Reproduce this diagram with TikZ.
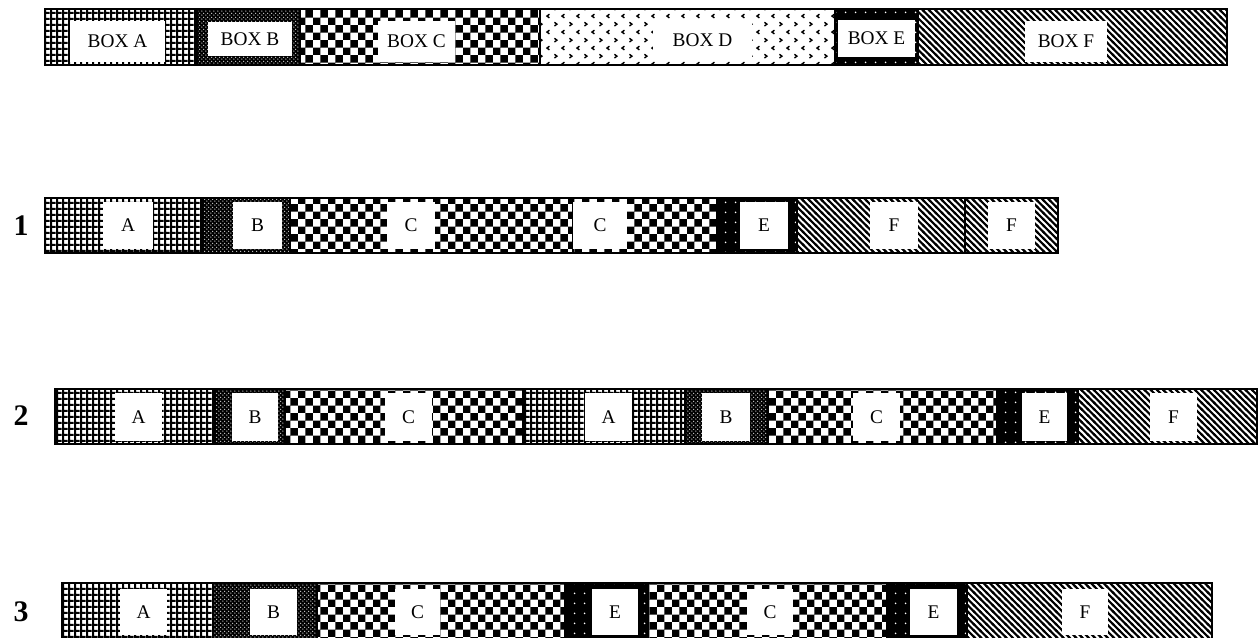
\documentclass[tikz,border=0pt]{standalone}
\usepackage{fontspec}
\setmainfont{Liberation Serif}
\usetikzlibrary{patterns}

\pgfdeclarepatternformonly{gridA}{\pgfqpoint{0pt}{0pt}}{\pgfqpoint{3.6pt}{3.6pt}}{\pgfqpoint{3.6pt}{3.6pt}}{%
  \pgfpathrectangle{\pgfqpoint{0pt}{0pt}}{\pgfqpoint{3.6pt}{1.3pt}}%
  \pgfpathrectangle{\pgfqpoint{0pt}{0pt}}{\pgfqpoint{1.3pt}{3.6pt}}%
  \pgfusepath{fill}}
\pgfdeclarepatternformonly{dotsB}{\pgfqpoint{0pt}{0pt}}{\pgfqpoint{2.4pt}{2.4pt}}{\pgfqpoint{2.4pt}{2.4pt}}{%
  \pgfpathcircle{\pgfqpoint{0.6pt}{0.6pt}}{0.4pt}%
  \pgfpathcircle{\pgfqpoint{1.8pt}{1.8pt}}{0.4pt}%
  \pgfusepath{fill}}
\pgfdeclarepatternformonly{checkC}{\pgfqpoint{0pt}{0pt}}{\pgfqpoint{8.5pt}{8.5pt}}{\pgfqpoint{8.5pt}{8.5pt}}{%
  \pgfpathrectangle{\pgfqpoint{0pt}{0pt}}{\pgfqpoint{4.25pt}{4.25pt}}%
  \pgfpathrectangle{\pgfqpoint{4.25pt}{4.25pt}}{\pgfqpoint{4.25pt}{4.25pt}}%
  \pgfusepath{fill}}
\pgfdeclarepatternformonly{chevD}{\pgfqpoint{0pt}{0pt}}{\pgfqpoint{8.5pt}{9pt}}{\pgfqpoint{8.5pt}{9pt}}{%
  \pgfsetlinewidth{0.8pt}%
  \pgfpathmoveto{\pgfqpoint{1.4pt}{7.8pt}}\pgfpathlineto{\pgfqpoint{2.8pt}{6.75pt}}\pgfpathlineto{\pgfqpoint{1.4pt}{5.7pt}}%
  \pgfpathmoveto{\pgfqpoint{7.1pt}{3.3pt}}\pgfpathlineto{\pgfqpoint{5.7pt}{2.25pt}}\pgfpathlineto{\pgfqpoint{7.1pt}{1.2pt}}%
  \pgfusepath{stroke}}
\pgfdeclarepatternformonly{dotsE}{\pgfqpoint{0pt}{0pt}}{\pgfqpoint{5.7pt}{5.7pt}}{\pgfqpoint{5.7pt}{5.7pt}}{%
  \pgfpathcircle{\pgfqpoint{2.85pt}{2.85pt}}{0.55pt}%
  \pgfusepath{fill}}
\pgfdeclarepatternformonly{linesF}{\pgfqpoint{-1pt}{-1pt}}{\pgfqpoint{4.6pt}{4.6pt}}{\pgfqpoint{3.6pt}{3.6pt}}{%
  \pgfsetlinewidth{1.2pt}%
  \pgfpathmoveto{\pgfqpoint{-0.5pt}{4.1pt}}\pgfpathlineto{\pgfqpoint{4.1pt}{-0.5pt}}%
  \pgfusepath{stroke}}

\tikzset{
  patA/.style={pattern=gridA},
  patB/.style={fill=black, postaction={pattern=dotsB, pattern color=white}},
  patC/.style={pattern=checkC},
  patD/.style={pattern=chevD},
  patE/.style={fill=black, postaction={pattern=dotsE, pattern color=white}},
  patF/.style={pattern=linesF},
  segline/.style={draw=black, line width=0.6pt},
  lbl/.style={fill=white, inner sep=0pt, font=\fontsize{11}{13}\selectfont},
  rownum/.style={font=\fontsize{17}{20}\selectfont\bfseries},
}

\begin{document}
\begin{tikzpicture}[x=0.02cm, y=-0.02cm]
  \useasboundingbox (0,0) rectangle (1258,637);

  \foreach \a/\b/\p/\c/\d/\e/\f/\t [count=\i] in {
      45/197/patA/70/165/21/62/BOX A, 197/300/patB/208/292/22/56/BOX B,
      300/540/patC/378/455/21/62/BOX C, 540/835/patD/653/752/21/60/BOX D,
      835/918/patE/838/915/20/57/BOX E, 918/1227/patF/1025/1107/21/62/BOX F} {
    \path[\p] (\a,9) rectangle (\b,65);
    \draw[segline] (\a,9) rectangle (\b,65);
    \node[lbl, minimum width={(\d-\c)*0.02cm}, minimum height={(\f-\e)*0.02cm}]
      (top\i) at ({(\c+\d)/2},{(\e+\f)/2}) {\t};
  }

  \node[rownum] (n1) at (21,226) {1};
  \foreach \a/\b/\p/\c/\d/\t [count=\i] in {
      45/203/patA/103/153/A, 203/290/patB/233/282/B, 290/573/patC/387/435/C,
      573/717/patC/573/627/C, 717/797/patE/740/788/E, 797/965/patF/870/918/F,
      965/1058/patF/988/1035/F} {
    \path[\p] (\a,198) rectangle (\b,253);
    \draw[segline] (\a,198) rectangle (\b,253);
    \node[lbl, minimum width={(\d-\c)*0.02cm}, minimum height=0.94cm]
      (one\i) at ({(\c+\d)/2},225.5) {\t};
  }

  \node[rownum] (n2) at (21,416) {2};
  \foreach \a/\b/\p/\c/\d/\t [count=\i] in {
      55/215/patA/115/162/A, 215/285/patB/232/278/B, 285/523/patC/385/432/C,
      525/685/patA/585/632/A, 685/768/patB/702/750/B, 768/997/patC/853/900/C,
      997/1078/patE/1022/1067/E, 1078/1257/patF/1150/1197/F} {
    \path[\p] (\a,389) rectangle (\b,444);
    \draw[segline] (\a,389) rectangle (\b,444);
    \node[lbl, minimum width={(\d-\c)*0.02cm}, minimum height=0.96cm]
      (two\i) at ({(\c+\d)/2},417) {\t};
  }

  \node[rownum] (n3) at (21,612) {3};
  \foreach \a/\b/\p/\c/\d/\t [count=\i] in {
      62/213/patA/120/167/A, 213/317/patB/250/297/B, 317/565/patC/395/440/C,
      565/648/patE/592/638/E, 648/887/patC/747/793/C, 887/967/patE/910/957/E,
      967/1212/patF/1062/1108/F} {
    \path[\p] (\a,583) rectangle (\b,640);
    \draw[segline] (\a,583) rectangle (\b,640);
    \node[lbl, minimum width={(\d-\c)*0.02cm}, minimum height=0.92cm]
      (three\i) at ({(\c+\d)/2},612) {\t};
  }
\end{tikzpicture}
\end{document}
